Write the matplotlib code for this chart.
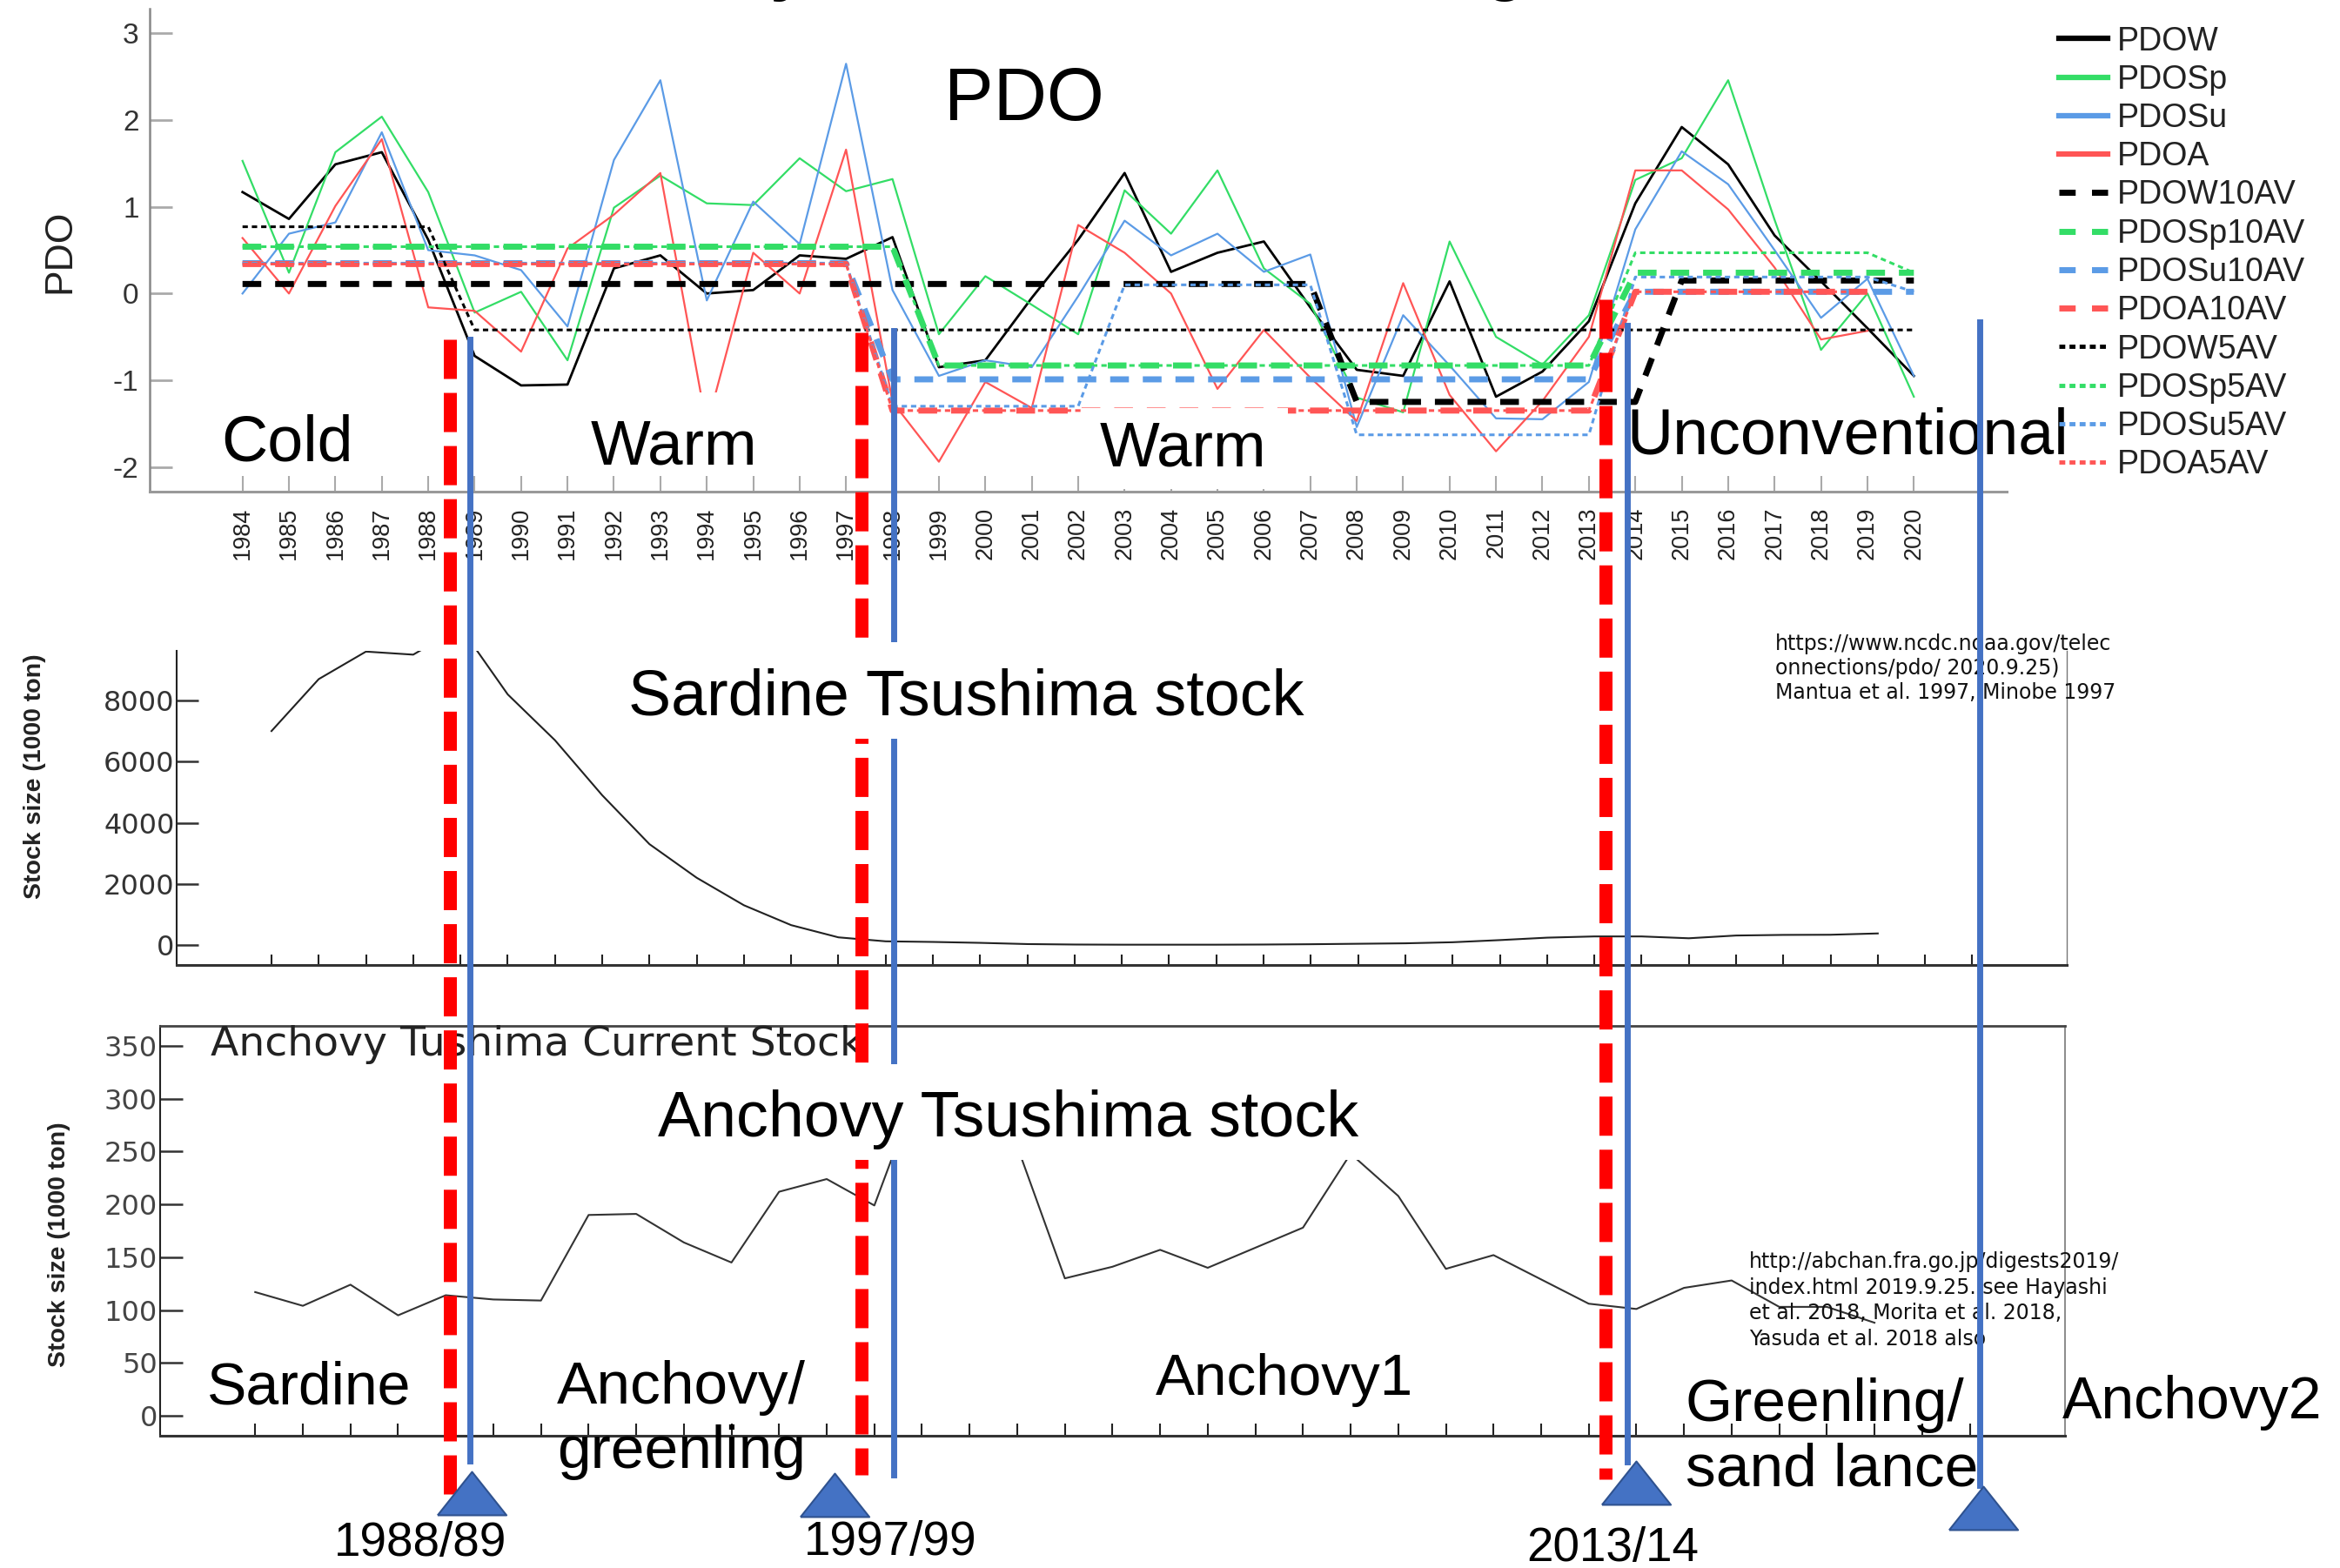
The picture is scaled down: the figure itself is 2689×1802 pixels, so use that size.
import numpy as np
import matplotlib
matplotlib.use("Agg")
import matplotlib.pyplot as plt
from matplotlib import font_manager, transforms
from matplotlib.lines import Line2D
from matplotlib.patches import Rectangle

# ---- PDO indices (winter / spring / summer / autumn), 1984-2020 ----
years = np.arange(1984, 2021)
pdow = [1.17, 0.86, 1.49, 1.63, 0.62, -0.72, -1.06, -1.05, 0.29, 0.44,
        0.00, 0.04, 0.44, 0.40, 0.65, -0.85, -0.77, -0.05, 0.62, 1.39,
        0.25, 0.47, 0.60, -0.16, -0.88, -0.95, 0.14, -1.19, -0.90, -0.32,
        1.04, 1.92, 1.49, 0.67, 0.14, -0.40, -0.95]
pdosp = [1.53, 0.24, 1.63, 2.04, 1.17, -0.22, 0.02, -0.77, 0.99, 1.36,
         1.04, 1.02, 1.56, 1.18, 1.32, -0.47, 0.20, -0.13, -0.47, 1.19,
         0.69, 1.42, 0.29, -0.12, -1.20, -1.37, 0.60, -0.50, -0.82, -0.25,
         1.31, 1.56, 2.46, 0.85, -0.65, 0.00, -1.19]
pdosu = [0.00, 0.69, 0.82, 1.86, 0.50, 0.44, 0.27, -0.38, 1.54, 2.46,
         -0.08, 1.06, 0.57, 2.65, 0.04, -0.95, -0.77, -0.85, -0.03, 0.84,
         0.44, 0.69, 0.25, 0.45, -1.54, -0.25, -0.83, -1.44, -1.45, -1.02,
         0.74, 1.64, 1.26, 0.50, -0.28, 0.17, -0.95]
pdoa = [0.64, 0.00, 1.01, 1.78, -0.16, -0.20, -0.67, 0.52, 0.91, 1.39,
        -1.53, 0.47, 0.00, 1.66, -1.25, -1.94, -1.02, -1.32, 0.79, 0.47,
        0.00, -1.10, -0.42, -0.97, -1.47, 0.12, -1.17, -1.82, -1.24, -0.50,
        1.42, 1.42, 0.97, 0.30, -0.53, -0.43, np.nan]

# period means (10AV / 5AV)
pdow10 = [0.11, 0.11, 0.11, 0.11, 0.11, 0.11, 0.11, 0.11, 0.11, 0.11,
          0.11, 0.11, 0.11, 0.11, 0.11, 0.11, 0.11, 0.11, 0.11, 0.11,
          0.11, 0.11, 0.11, 0.11, -1.25, -1.25, -1.25, -1.25, -1.25, -1.25,
          -1.25, 0.15, 0.15, 0.15, 0.15, 0.15, 0.15]
pdosp10 = [0.54, 0.54, 0.54, 0.54, 0.54, 0.54, 0.54, 0.54, 0.54, 0.54,
           0.54, 0.54, 0.54, 0.54, 0.54, -0.83, -0.83, -0.83, -0.83, -0.83,
           -0.83, -0.83, -0.83, -0.83, -0.83, -0.83, -0.83, -0.83, -0.83, -0.83,
           0.24, 0.24, 0.24, 0.24, 0.24, 0.24, 0.24]
pdosu10 = [0.35, 0.35, 0.35, 0.35, 0.35, 0.35, 0.35, 0.35, 0.35, 0.35,
           0.35, 0.35, 0.35, 0.35, -0.99, -0.99, -0.99, -0.99, -0.99, -0.99,
           -0.99, -0.99, -0.99, -0.99, -0.99, -0.99, -0.99, -0.99, -0.99, -0.99,
           0.02, 0.02, 0.02, 0.02, 0.02, 0.02, 0.02]
pdoa10 = [0.34, 0.34, 0.34, 0.34, 0.34, 0.34, 0.34, 0.34, 0.34, 0.34,
          0.34, 0.34, 0.34, 0.34, -1.35, -1.35, -1.35, -1.35, -1.35, -1.35,
          -1.35, -1.35, -1.35, -1.35, -1.35, -1.35, -1.35, -1.35, -1.35, -1.35,
          0.02, 0.02, 0.02, 0.02, 0.02, 0.02, np.nan]
pdow5 = [0.77, 0.77, 0.77, 0.77, 0.77, -0.42, -0.42, -0.42, -0.42, -0.42,
         -0.42, -0.42, -0.42, -0.42, -0.42, -0.42, -0.42, -0.42, -0.42, -0.42,
         -0.42, -0.42, -0.42, -0.42, -0.42, -0.42, -0.42, -0.42, -0.42, -0.42,
         -0.42, -0.42, -0.42, -0.42, -0.42, -0.42, -0.42]
pdosp5 = [0.54, 0.54, 0.54, 0.54, 0.54, 0.54, 0.54, 0.54, 0.54, 0.54,
          0.54, 0.54, 0.54, 0.54, 0.54, -0.83, -0.83, -0.83, -0.83, -0.83,
          -0.83, -0.83, -0.83, -0.83, -0.83, -0.83, -0.83, -0.83, -0.83, -0.83,
          0.47, 0.47, 0.47, 0.47, 0.47, 0.47, 0.24]
pdosu5 = [0.35, 0.35, 0.35, 0.35, 0.35, 0.35, 0.35, 0.35, 0.35, 0.35,
          0.35, 0.35, 0.35, 0.35, -1.30, -1.30, -1.30, -1.30, -1.30, 0.10,
          0.10, 0.10, 0.10, 0.10, -1.63, -1.63, -1.63, -1.63, -1.63, -1.63,
          0.19, 0.19, 0.19, 0.19, 0.19, 0.19, 0.02]
pdoa5 = [0.34, 0.34, 0.34, 0.34, 0.34, 0.34, 0.34, 0.34, 0.34, 0.34,
         0.34, 0.34, 0.34, 0.34, -1.35, -1.35, -1.35, -1.35, -1.35, -1.35,
         -1.35, -1.35, -1.35, -1.35, -1.35, -1.35, -1.35, -1.35, -1.35, -1.35,
         0.02, 0.02, 0.02, 0.02, 0.02, 0.02, np.nan]

# ---- stock sizes (1000 ton), 1984-2018 ----
stock_years = np.arange(1984, 2019)
sardine = [7000, 8700, 9600, 9500, 10400, 8200, 6700, 4900, 3300, 2200,
           1300, 650, 250, 120, 100, 70, 30, 15, 10, 10,
           10, 15, 25, 40, 55, 90, 160, 240, 280, 280,
           220, 310, 330, 335, 378]
anchovy = [117, 104, 124, 95, 114, 110, 109, 190, 191, 164,
           145, 212, 224, 199, 320, 290, 255, 130, 141, 157,
           140, 159, 178, 248, 208, 139, 152, 129, 106, 101,
           121, 128, 103, 103, 88]

# regime shift markers (years on the PDO axis)
shift_red = [1988.46, 1997.34, 2013.36]
shift_blue = [1988.90, 1998.03, 2013.82, 2021.41]
arrow_years = [1988.93, 1996.75, 2014.01, 2021.50]
shift_labels = ["1988/89", "1997/99", "2013/14"]

W, H = 2689, 1802


def has_font(name):
    try:
        font_manager.findfont(name, fallback_to_default=False)
        return True
    except ValueError:
        return False


narrow_ok = has_font("Liberation Sans Narrow")
NARROW = "Liberation Sans Narrow" if narrow_ok else "Liberation Sans"

plt.rcParams["font.family"] = ["Liberation Sans", "DejaVu Sans"]
plt.rcParams["axes.unicode_minus"] = False

fig = plt.figure(figsize=(W / 100, H / 100), dpi=100)
# pixel coordinates, origin top-left
px = transforms.Affine2D().scale(1 / W, -1 / H).translate(0, 1) + fig.transFigure


def add_axes_px(left, top, right, bottom):
    return fig.add_axes([left / W, 1 - bottom / H, (right - left) / W, (bottom - top) / H])


GREEN, BLUE, RED = "#33dd66", "#5b9be6", "#ff5555"
raw = [("PDOW", pdow, "black"), ("PDOSp", pdosp, GREEN),
       ("PDOSu", pdosu, BLUE), ("PDOA", pdoa, RED)]
av10 = [("PDOW10AV", pdow10, "black"), ("PDOSp10AV", pdosp10, GREEN),
        ("PDOSu10AV", pdosu10, BLUE), ("PDOA10AV", pdoa10, RED)]
av5 = [("PDOW5AV", pdow5, "black"), ("PDOSp5AV", pdosp5, GREEN),
       ("PDOSu5AV", pdosu5, BLUE), ("PDOA5AV", pdoa5, RED)]

# ---- PDO panel ----
ax1 = add_axes_px(172, 10, 2306, 564.6)
for name, vals, col in raw:
    ax1.plot(years, vals, color=col, lw=2.0 if col == "black" else 1.6, zorder=2)
for name, vals, col in av10:
    ax1.plot(years, vals, color=col, lw=5, dashes=(3.1, 2.3), zorder=3)
for name, vals, col in av5:
    ax1.plot(years, vals, color=col, lw=2.2, dashes=(2.0, 1.5), zorder=4)
ax1.set_xlim(1982, 2022)
ax1.set_ylim(-2.281, 3.285)
ax1.set_xticks(years)
ax1.set_xticklabels([str(y) for y in years], rotation=90,
                    fontsize=22 if narrow_ok else 19.5, family=NARROW, color="#222")
ax1.set_yticks([-2, -1, 0, 1, 2, 3])
ax1.set_yticklabels(["-2", "-1", "0", "1", "2", "3"])
ax1.tick_params(axis="x", direction="in", length=13, width=1.5, color="#aaaaaa", pad=13)
ax1.tick_params(axis="y", direction="in", length=19, width=2, color="#aaaaaa", pad=9,
                labelsize=24, labelcolor="#333")
ax1.spines["top"].set_visible(False)
ax1.spines["right"].set_visible(False)
ax1.spines["left"].set_color("#888")
ax1.spines["left"].set_linewidth(1.8)
ax1.spines["bottom"].set_color("#999")
ax1.spines["bottom"].set_linewidth(2.2)
fig.text(68.5, 288.5, "PDO", transform=px, rotation=90, fontsize=32,
         ha="center", va="center", color="#222")

handles, labels = [], []
for name, _, col in raw:
    handles.append(Line2D([], [], color=col, lw=4.5))
    labels.append(name)
for name, _, col in av10:
    handles.append(Line2D([], [], color=col, lw=5, dashes=(2.7, 2.7)))
    labels.append(name)
for name, _, col in av5:
    handles.append(Line2D([], [], color=col, lw=3.5, dashes=(1.4, 1.0)))
    labels.append(name)
fig.legend(handles, labels, loc="upper left", bbox_to_anchor=(2366, 29.5),
           bbox_transform=px, frameon=False, fontsize=27, labelcolor="#222",
           handlelength=1.5, handletextpad=0.27, labelspacing=0.22,
           borderpad=0, borderaxespad=0)

# ---- sardine panel ----
ax2 = add_axes_px(203.4, 748.3, 2375, 1109.3)
ax2.plot(stock_years, sardine, color="#222", lw=1.5)
ax2.set_xlim(1982, 2022)
ax2.set_ylim(-663, 9615)
ax2.set_xticks(years)
ax2.set_xticklabels([])
ax2.set_yticks([0, 2000, 4000, 6000, 8000])
ax2.tick_params(axis="x", direction="in", length=9, width=1.5, color="#222")
ax2.tick_params(axis="y", direction="in", length=18, width=1.8, color="#333", pad=2,
                labelsize=23, labelcolor="#333", labelfontfamily="DejaVu Sans")
ax2.spines["top"].set_visible(False)
ax2.spines["right"].set_color("#777")
ax2.spines["right"].set_linewidth(1.0)
ax2.spines["left"].set_color("#222")
ax2.spines["left"].set_linewidth(1.5)
ax2.spines["bottom"].set_color("#333")
ax2.spines["bottom"].set_linewidth(2.2)

# ---- anchovy panel ----
ax3 = add_axes_px(183.8, 1179, 2373, 1650)
ax3.plot(stock_years, anchovy, color="#333", lw=1.5)
ax3.set_xlim(1982, 2022)
ax3.set_ylim(-19, 369)
ax3.set_xticks(years)
ax3.set_xticklabels([])
ax3.set_yticks([0, 50, 100, 150, 200, 250, 300, 350])
ax3.tick_params(axis="x", direction="in", length=10, width=1.5, color="#222")
ax3.tick_params(axis="y", direction="in", length=19, width=1.8, color="#333", pad=2,
                labelsize=23, labelcolor="#444", labelfontfamily="DejaVu Sans")
ax3.spines["top"].set_color("#444")
ax3.spines["top"].set_linewidth(2.0)
ax3.spines["right"].set_color("#777")
ax3.spines["right"].set_linewidth(1.2)
ax3.spines["left"].set_color("#222")
ax3.spines["left"].set_linewidth(1.5)
ax3.spines["bottom"].set_color("#333")
ax3.spines["bottom"].set_linewidth(2.2)
fig.text(242, 1213, "Anchovy Tushima Current Stock", transform=px, fontsize=34,
         family="DejaVu Sans", color="#222", ha="left", va="baseline", zorder=4)

ylab_size = 23 if narrow_ok else 20.5
fig.text(40, 892, "Stock size (1000 ton)", transform=px, rotation=90,
         fontsize=ylab_size, family=NARROW, fontweight="bold",
         ha="center", va="center", color="#222")
fig.text(68, 1430, "Stock size (1000 ton)", transform=px, rotation=90,
         fontsize=ylab_size, family=NARROW, fontweight="bold",
         ha="center", va="center", color="#222")

# references (baseline of the last line)
fig.text(2040, 803, "https://www.ncdc.noaa.gov/telec\nonnections/pdo/ 2020.9.25)\n"
         "Mantua et al. 1997, Minobe 1997", transform=px, family="DejaVu Sans",
         fontsize=17, color="#111", ha="left", va="baseline", linespacing=1.2, zorder=4)
fig.text(2010, 1546, "http://abchan.fra.go.jp/digests2019/\nindex.html 2019.9.25. see Hayashi\n"
         "et al. 2018, Morita et al. 2018,\nYasuda et al. 2018 also", transform=px,
         family="DejaVu Sans", fontsize=17, color="#111", ha="left", va="baseline",
         linespacing=1.3, zorder=4)

# ---- regime shift lines and arrows ----
xyears = transforms.blended_transform_factory(ax1.transData, px)
red_spans = [(389.5, 1717), (381.6, 1695), (344, 1700)]
blue_spans = [(389.5, 1679), (379.6, 1695), (373.5, 1680), (370, 1707)]
for x, (top, bot) in zip(shift_red, red_spans):
    fig.add_artist(Line2D([x, x], [top, bot], transform=xyears, color="#ff0000",
                          lw=10.8, dashes=(3.0, 1.07), zorder=5))
for x, (top, bot) in zip(shift_blue, blue_spans):
    fig.add_artist(Line2D([x, x], [top, bot], transform=xyears, color="#4472c4",
                          lw=5, zorder=5))
tri = [(-1, -0.63), (1, -0.63), (0, 0.63), (-1, -0.63)]
fig.add_artist(Line2D(arrow_years, [1715.5, 1718, 1704, 1732.5], transform=xyears,
                      ls="none", marker=tri, markersize=57, markerfacecolor="#4472c4",
                      markeredgecolor="#2f528f", markeredgewidth=1.5, zorder=5))

# white text boxes that sit on top of the curves
for l, t, r, b in [(672, 451, 880, 543), (1242, 469, 1480, 562),
                   (712, 738, 1525, 849), (740, 1223, 1590, 1333)]:
    fig.add_artist(Rectangle((l, t), r - l, b - t, transform=px, facecolor="white",
                             edgecolor="none", zorder=6))


# ---- slide labels (y = baseline of the last line) ----
def label(x, y, s, size, z=7, **kw):
    fig.text(x, y, s, transform=px, fontsize=size, ha="left", va="baseline",
             color="black", zorder=z, **kw)


label(652, -14, "Fishery stock and PDO changes", 56, fontweight="bold")
label(1085, 138, "PDO", 61)
label(254, 530, "Cold", 53)
label(679, 534, "Warm", 52.5)
label(1264, 536, "Warm", 52.5)
label(1869, 522, "Unconventional", 53, z=4)
label(722, 821, "Sardine Tsushima stock", 53)
label(756, 1306, "Anchovy Tsushima stock", 53)
label(238, 1613, "Sardine", 49)
label(640, 1687, "Anchovy/\ngreenling", 50)
label(1328, 1603, "Anchovy1", 48.5)
label(1937, 1707, "Greenling/\nsand lance", 50)
label(2370, 1630, "Anchovy2", 49)
for s, x, y in zip(shift_labels, [483.5, 1023, 1853.5], [1788, 1787, 1794]):
    fig.text(x, y, s, transform=px, fontsize=39.5, ha="center", va="baseline",
             color="black", zorder=7)

fig.savefig("out.png", dpi=100)
